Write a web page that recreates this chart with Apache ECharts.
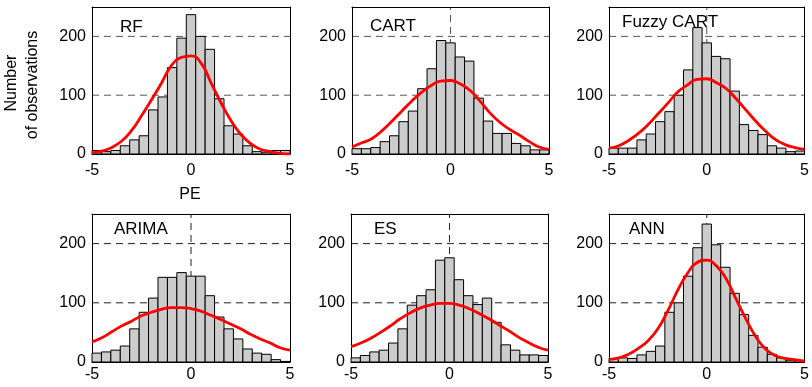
<!DOCTYPE html>
<html>
<head>
<meta charset="utf-8">
<script src="https://cdn.jsdelivr.net/npm/echarts@6.0.0/dist/echarts.min.js"></script>
<style>
  html, body { margin: 0; padding: 0; background: #fff; }
  #chart { width: 812px; height: 387px; }
</style>
</head>
<body>
<div id="chart"></div>
<script>
// histogram bins: 21 equal bins over [-5, 5]
var xMin = -5, xMax = 5, binCount = 21;
var panelNames = ['RF', 'CART', 'Fuzzy CART', 'ARIMA', 'ES', 'ANN'];

// bar heights (number of observations per bin)
var countsRF    = [6, 4, 6, 14, 24, 31, 75, 97, 147, 197, 237, 200, 178, 94, 48, 34, 14, 4, 3, 6, 6];
var countsCART  = [9, 9, 11, 21, 31, 55, 73, 111, 145, 193, 189, 165, 158, 95, 56, 35, 35, 18, 14, 7, 7];
var countsFuzzy = [10, 10, 10, 24, 34, 55, 72, 100, 143, 215, 189, 166, 162, 107, 50, 40, 33, 14, 10, 4, 5];
var countsARIMA = [15, 17, 20, 27, 56, 84, 108, 143, 143, 151, 145, 145, 112, 76, 56, 39, 22, 15, 13, 4, 1];
var countsES    = [7, 11, 17, 20, 32, 56, 96, 112, 122, 172, 176, 139, 112, 97, 108, 67, 29, 20, 12, 12, 11];
var countsANN   = [6, 7, 6, 12, 18, 27, 84, 100, 145, 193, 233, 198, 160, 116, 80, 45, 25, 13, 7, 3, 3];

// red fitted curves, sampled at curveX
var curveX     = [-5, -4.5, -4, -3.5, -3, -2.5, -2, -1.5, -1, -0.5, 0, 0.5, 1, 1.5, 2, 2.5, 3, 3.5, 4, 4.5, 5];
var curveRF    = [2, 5, 11, 22, 40, 65, 92, 120, 150, 164, 167, 155, 122, 88, 58, 34, 18, 8, 4, 1, 0];
var curveCART  = [12, 19, 26, 39, 55, 72, 89, 104, 116, 124, 125, 119, 108, 90, 70, 54, 42, 32, 21, 12, 8];
var curveFuzzy = [10, 14, 23, 35, 50, 68, 86, 105, 117, 127, 128, 121, 111, 94, 75, 56, 39, 25, 16, 11, 8];
var curveARIMA = [34, 41, 51, 61, 69, 78, 84, 89, 92, 92, 90, 86, 79, 72, 64, 56, 47, 39, 32, 24, 20];
var curveES    = [26, 32, 40, 50, 61, 73, 83, 91, 96, 99, 99, 96, 90, 82, 73, 63, 53, 42, 33, 25, 20];
var curveANN   = [4, 7, 13, 23, 36, 56, 86, 120, 149, 168, 172, 162, 140, 106, 73, 43, 22, 11, 6, 4, 1];

var yTicks = [0, 100, 200];
var yMax = 250;
// dashed reference lines: horizontal at refY, vertical at refX
var refY = [100, 200];
var refX = [0];

var allCounts = [countsRF, countsCART, countsFuzzy, countsARIMA, countsES, countsANN];
var allCurves = [curveRF, curveCART, curveFuzzy, curveARIMA, curveES, curveANN];

var grids = [
  { left: 92, top: 7, width: 198, height: 147 },
  { left: 352, top: 7, width: 197, height: 147 },
  { left: 609, top: 7, width: 198, height: 147 },
  { left: 92, top: 214, width: 198, height: 148 },
  { left: 351, top: 214, width: 197, height: 148 },
  { left: 609, top: 214, width: 198, height: 148 }
];
var titlePos = [[115, 14], [365, 13], [617, 9], [109, 216], [369, 216], [624, 216]];

var font = 'Liberation Sans, Arial, Helvetica, sans-serif';
var binWidth = (xMax - xMin) / binCount;

var refData = refY.map(function (v) { return [0, v]; })
  .concat(refX.map(function (v) { return [1, v]; }));

var xAxes = [], yAxes = [], series = [], titles = [];

grids.forEach(function (g, i) {
  var row = i < 3 ? 0 : 1;
  xAxes.push({
    gridIndex: i, type: 'value', min: xMin, max: xMax, interval: 5,
    axisLine: { lineStyle: { color: '#000', width: 1 } },
    axisTick: { show: false },
    axisLabel: { color: '#000', fontSize: 16, fontFamily: font, margin: row === 0 ? 9 : 5 },
    splitLine: { show: false },
    z: 3
  });
  xAxes.push({
    gridIndex: i, type: 'value', position: 'top', min: xMin, max: xMax,
    axisLine: { onZero: false, lineStyle: { color: '#000', width: 1 } },
    axisTick: { show: false }, axisLabel: { show: false }, splitLine: { show: false },
    z: 3
  });
  yAxes.push({
    gridIndex: i, type: 'value', min: 0, max: yMax, interval: 100,
    axisLine: { show: true, onZero: false, lineStyle: { color: '#000', width: 1 } },
    axisTick: { show: false },
    axisLabel: {
      color: '#000', fontSize: 16, fontFamily: font, margin: 6,
      formatter: function (v) { return yTicks.indexOf(v) >= 0 ? String(v) : ''; }
    },
    splitLine: { show: false },
    z: 3
  });
  yAxes.push({
    gridIndex: i, type: 'value', position: 'right', min: 0, max: yMax,
    axisLine: { show: true, onZero: false, lineStyle: { color: '#000', width: 1 } },
    axisTick: { show: false }, axisLabel: { show: false }, splitLine: { show: false },
    z: 3
  });

  titles.push({
    text: panelNames[i], left: titlePos[i][0], top: titlePos[i][1],
    textStyle: { color: '#000', fontSize: 17, fontWeight: 'normal', fontFamily: font }
  });

  // dashed reference lines, drawn behind the bars
  series.push({
    type: 'custom', xAxisIndex: 2 * i, yAxisIndex: 2 * i, z: 1, silent: true,
    data: refData,
    renderItem: function (params, api) {
      var v = api.value(1), a, b;
      if (api.value(0) === 0) {
        a = api.coord([xMin, v]); b = api.coord([xMax, v]);
      } else {
        a = api.coord([v, 0]); b = api.coord([v, yMax]);
      }
      return {
        type: 'line',
        shape: { x1: a[0], y1: a[1], x2: b[0], y2: b[1] },
        style: { stroke: row === 0 ? '#555' : '#222', lineWidth: 1, lineDash: [7, 5] }
      };
    }
  });

  // histogram bars
  var bars = allCounts[i].map(function (c, k) {
    return [xMin + k * binWidth, xMin + (k + 1) * binWidth, c];
  });
  series.push({
    type: 'custom', xAxisIndex: 2 * i, yAxisIndex: 2 * i, z: 6,
    data: bars,
    renderItem: function (params, api) {
      var p0 = api.coord([api.value(0), api.value(2)]);
      var p1 = api.coord([api.value(1), 0]);
      return {
        type: 'rect',
        shape: { x: p0[0], y: p0[1], width: p1[0] - p0[0], height: p1[1] - p0[1] },
        style: { fill: '#cccccc', stroke: '#000', lineWidth: 1 }
      };
    }
  });

  // red curve
  series.push({
    type: 'line', xAxisIndex: 2 * i, yAxisIndex: 2 * i, z: 7,
    smooth: true, symbol: 'none',
    lineStyle: { color: '#ff0000', width: 2.8 },
    data: curveX.map(function (x, k) { return [x, allCurves[i][k]]; })
  });
});

var myChart = echarts.init(document.getElementById('chart'));
myChart.setOption({
  animation: false,
  backgroundColor: '#fff',
  title: titles,
  grid: grids,
  xAxis: xAxes,
  yAxis: yAxes,
  series: series,
  graphic: [
    { type: 'text', x: 12, y: 83, rotation: Math.PI / 2,
      style: { text: 'Number', fill: '#000', font: '16px ' + font, align: 'center', verticalAlign: 'middle' } },
    { type: 'text', x: 33, y: 85, rotation: Math.PI / 2,
      style: { text: 'of observations', fill: '#000', font: '16px ' + font, align: 'center', verticalAlign: 'middle' } },
    { type: 'text', x: 190, y: 195,
      style: { text: 'PE', fill: '#000', font: '16px ' + font, align: 'center', verticalAlign: 'middle' } }
  ]
});
window.addEventListener('resize', function () {
  myChart.resize();
});
</script>
</body>
</html>
